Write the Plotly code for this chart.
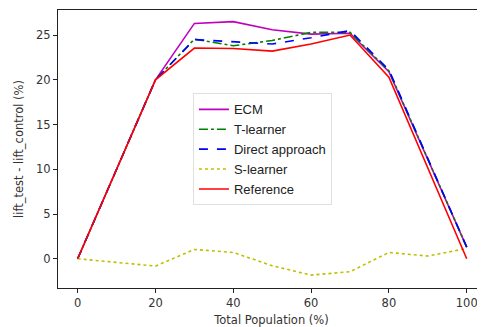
import plotly.graph_objects as go

x_main = [0, 20, 30, 40, 50, 60, 70, 80, 100]
ecm = [0, 20, 26.3, 26.5, 25.6, 25.1, 25.2, 20.9, 1.3]
t_learner = [0, 20, 24.55, 23.8, 24.4, 25.3, 25.3, 21.0, 1.3]
direct = [0, 20, 24.5, 24.25, 24.0, 24.7, 25.5, 21.1, 1.3]
reference = [0, 20, 23.55, 23.5, 23.2, 24.0, 25.0, 20.3, 0]

x_s = [0, 20, 30, 40, 50, 60, 70, 80, 90, 100]
s_learner = [0, -0.82, 1.04, 0.7, -0.78, -1.83, -1.45, 0.7, 0.3, 1.15]

x_ticks = [0, 20, 40, 60, 80, 100]
y_ticks = [0, 5, 10, 15, 20, 25]

fig = go.Figure()
fig.add_trace(go.Scatter(x=x_main, y=ecm, mode="lines", name="ECM",
                         line=dict(color="#bf00bf", width=1.6)))
fig.add_trace(go.Scatter(x=x_main, y=t_learner, mode="lines", name="T-learner",
                         line=dict(color="#008000", width=1.6, dash="dashdot")))
fig.add_trace(go.Scatter(x=x_main, y=direct, mode="lines", name="Direct approach",
                         line=dict(color="#0000ff", width=1.6, dash="dash")))
fig.add_trace(go.Scatter(x=x_s, y=s_learner, mode="lines", name="S-learner",
                         line=dict(color="#bfbf00", width=1.6, dash="dot")))
fig.add_trace(go.Scatter(x=x_main, y=reference, mode="lines", name="Reference",
                         line=dict(color="#ff0000", width=1.6)))

# the page body has an 8px margin, so the figure is offset by 8px
fig.update_layout(
    width=477, height=319,
    margin=dict(l=50, r=0, t=2, b=39, autoexpand=False),
    plot_bgcolor="white", paper_bgcolor="white",
    font=dict(family="DejaVu Sans", size=11.5, color="#333333"),
    showlegend=True,
    legend=dict(x=0.316, y=0.70, xanchor="left", yanchor="top",
                bgcolor="rgba(255,255,255,0.8)", bordercolor="#e0e0e0", borderwidth=1,
                font=dict(family="Liberation Sans", size=13, color="#222222"),
                tracegroupgap=0),
    xaxis=dict(range=[-5.06, 104.7], tickvals=x_ticks, showgrid=False, zeroline=False,
               automargin=False,
               showline=True, linecolor="#222222", linewidth=1.2, mirror=True,
               ticks="outside", ticklen=4, tickcolor="#222222",
               title=dict(text="Total Population (%)", standoff=8, font=dict(size=11.5))),
    yaxis=dict(range=[-3.27, 27.8], tickvals=y_ticks, showgrid=False, zeroline=False,
               automargin=False,
               showline=True, linecolor="#222222", linewidth=1.2,
               ticks="outside", ticklen=4, tickcolor="#222222",
               title=dict(text="lift_test - lift_control (%)", standoff=9, font=dict(size=11.5))),
)

fig.write_html("out.html")
